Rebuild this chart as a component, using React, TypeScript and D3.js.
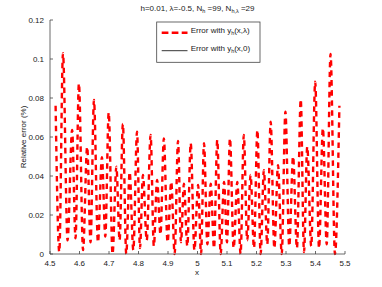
import React from 'react'
import * as d3 from 'd3'

// hump centres (x) and their peak values
const humpX = [
  4.519, 4.544, 4.575, 4.598, 4.626, 4.649, 4.676, 4.699, 4.725, 4.747,
  4.77, 4.795, 4.815, 4.841, 4.863, 4.886, 4.911, 4.934, 4.954, 4.977,
  5.002, 5.022, 5.045, 5.067, 5.09, 5.11, 5.135, 5.157, 5.18, 5.203,
  5.225, 5.248, 5.273, 5.298, 5.324, 5.35, 5.372, 5.399, 5.425, 5.451,
  5.481
]
const humpPeak = [
  0.076, 0.103, 0.0636, 0.0875, 0.055, 0.079, 0.0497, 0.0725, 0.0448, 0.0667,
  0.042, 0.0627, 0.0405, 0.061, 0.038, 0.0593, 0.037, 0.058, 0.036, 0.0568,
  0.0354, 0.0568, 0.036, 0.0585, 0.037, 0.0593, 0.037, 0.061, 0.0405, 0.0636,
  0.043, 0.0678, 0.0456, 0.073, 0.05, 0.0793, 0.055, 0.0884, 0.0645, 0.1026,
  0.076
]
// low points between neighbouring humps
const troughs = [
  0.001, 0.007, 0.008, 0.002, 0.006, 0.006, 0.009, 0.0, 0.007, 0.0,
  0.002, 0.003, 0.007, 0.004, 0.01, 0.006, 0.0, 0.006, 0.004, 0.002,
  0.0, 0.005, 0.003, 0.0, 0.006, 0.003, 0.0, 0.007, 0.003, 0.0,
  0.005, 0.003, 0.0, 0.004, 0.003, 0.001, 0.004, 0.003, 0.005, 0.0
]

const xTicks = [4.5, 4.6, 4.7, 4.8, 4.9, 5, 5.1, 5.2, 5.3, 5.4, 5.5]
const yTicks = [0, 0.02, 0.04, 0.06, 0.08, 0.1, 0.12]

const W = 382
const H = 287
const font = '"Liberation Sans", Arial, Helvetica, sans-serif'
const ink = '#1a1a1a'

export default function App() {
  const x = d3.scaleLinear().domain([4.5, 5.5]).range([50, 345])
  const y = d3.scaleLinear().domain([0, 0.12]).range([254, 20])

  const pts: [number, number][] = []
  humpX.forEach((hx, i) => {
    pts.push([hx, humpPeak[i]])
    if (i < humpX.length - 1) pts.push([(hx + humpX[i + 1]) / 2, troughs[i]])
  })

  const line = d3.line<[number, number]>()
    .x(d => x(d[0]))
    .y(d => y(d[1]))
    .curve(d3.curveMonotoneX)

  const [x0, x1] = x.range()
  const [y0, y1] = y.range()

  return (
    <svg width={W} height={H} style={{ position: 'absolute', left: 0, top: 0, background: '#fff', whiteSpace: 'pre' }}
      fontFamily={font} fontSize={8}>
      <rect width={W} height={H} fill="#fff" />

      {/* title */}
      <text x={197.5} y={10.8} textAnchor="middle" fill={ink}>
        <tspan>h=0.01,  λ=-0.5, N</tspan>
        <tspan fontSize={5.5} dy={2}>h</tspan>
        <tspan dy={-2}> =99,  N</tspan>
        <tspan fontSize={5.5} dy={2}>h,λ</tspan>
        <tspan dy={-2}> =29</tspan>
      </text>

      {/* data */}
      <path d={line(pts) || ''} fill="none" stroke="#ff0000" strokeWidth={2.4}
        strokeDasharray="5.5,4.5" strokeLinecap="butt" />

      {/* axes */}
      <line x1={x0} x2={x0} y1={y1} y2={y0} stroke="#444" strokeWidth={0.8} />
      <line x1={x0} x2={x1} y1={y0} y2={y0} stroke="#444" strokeWidth={0.8} />
      {yTicks.map(t => (
        <g key={'y' + t}>
          <line x1={x0} x2={x0 + 3} y1={y(t)} y2={y(t)} stroke="#444" strokeWidth={0.8} />
          <text x={x0 - 6} y={y(t)} dy="0.35em" textAnchor="end" fill={ink}>{String(t)}</text>
        </g>
      ))}
      {xTicks.map(t => (
        <g key={'x' + t}>
          <line x1={x(t)} x2={x(t)} y1={y0} y2={y0 - 3} stroke="#444" strokeWidth={0.8} />
          <text x={x(t)} y={265.7} textAnchor="middle" fill={ink}>{String(t)}</text>
        </g>
      ))}
      <text x={197} y={275} textAnchor="middle" fill={ink}>x</text>
      <text transform="translate(25.5,137) rotate(-90)" textAnchor="middle" fill={ink}>
        Relative error (%)
      </text>

      {/* legend */}
      <g>
        <rect x={156.7} y={22} width={103.3} height={40.3} fill="#fff" stroke="#444" strokeWidth={0.8} />
        <line x1={161.7} x2={187.5} y1={32.7} y2={32.7} stroke="#ff0000" strokeWidth={2.6} strokeDasharray="6.7,3.3" />
        <text x={190.7} y={33} fill={ink}>
          <tspan>Error with y</tspan>
          <tspan fontSize={5.5} dy={2}>h</tspan>
          <tspan dy={-2}>(x,λ)</tspan>
        </text>
        <line x1={161.7} x2={187.5} y1={50.7} y2={50.7} stroke="#000" strokeWidth={0.8} />
        <text x={190.7} y={51.2} fill={ink}>
          <tspan>Error with y</tspan>
          <tspan fontSize={5.5} dy={2}>h</tspan>
          <tspan dy={-2}>(x,0)</tspan>
        </text>
      </g>
    </svg>
  )
}
